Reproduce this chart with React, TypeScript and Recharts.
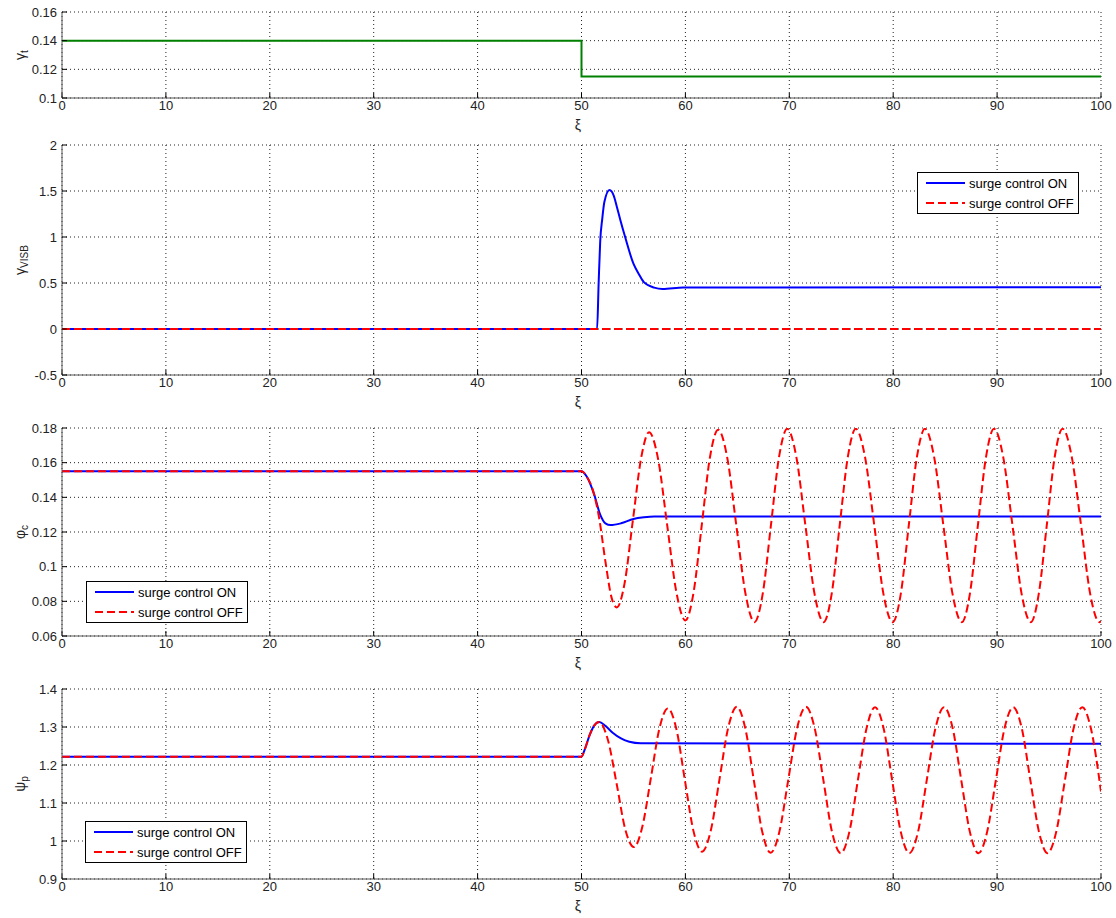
import React from 'react';
import { LineChart, Line, XAxis, YAxis, CartesianGrid, Legend } from 'recharts';

// axis ticks
const xTicks = [0, 10, 20, 30, 40, 50, 60, 70, 80, 90, 100];
const gammaTTicks = [0.1, 0.12, 0.14, 0.16];
const gammaVTicks = [-0.5, 0, 0.5, 1, 1.5, 2];
const phiTicks = [0.06, 0.08, 0.1, 0.12, 0.14, 0.16, 0.18];
const psiTicks = [0.9, 1, 1.1, 1.2, 1.3, 1.4];

const seriesNames = ['surge control ON', 'surge control OFF'];

// [xi, value] pairs
const gammaT = [[0, 0.14], [50, 0.14], [50, 0.115], [100, 0.115]];

const gammaVOn = [
  [0, 0], [51.5, 0], [51.65, 0.5], [51.8, 0.95], [52.0, 1.2], [52.2, 1.38], [52.7, 1.51],
  [53.1, 1.45], [53.4, 1.33], [53.75, 1.18], [54.2, 1.0], [55.0, 0.71], [55.5, 0.6],
  [56.0, 0.51], [57.0, 0.45], [57.8, 0.435], [59.8, 0.45], [100, 0.455],
];
const gammaVOff = [[0, 0], [100, 0]];

const phiOn = [
  [0, 0.155], [50, 0.155], [50.5, 0.152], [51.2, 0.142], [51.8, 0.13], [52.3, 0.125],
  [52.8, 0.124], [53.8, 0.125], [55, 0.1275], [56, 0.1285], [57, 0.129], [100, 0.129],
];
const phiOff = [
  [0, 0.155], [50, 0.155], [50.5, 0.152], [51.2, 0.142], [51.7, 0.128], [52.3, 0.103],
  [52.9, 0.082], [53.4, 0.0765], [54.15, 0.0905], [54.95, 0.127], [55.75, 0.163], [56.5, 0.1775],
  [57.375, 0.162], [58.25, 0.1238], [59.125, 0.0855], [60.0, 0.069],
  [60.79, 0.0853], [61.58, 0.1242], [62.36, 0.163], [63.15, 0.179],
  [64.03, 0.1628], [64.9, 0.1238], [65.78, 0.0845], [66.65, 0.068],
  [67.44, 0.0843], [68.23, 0.1238], [69.01, 0.1632], [69.8, 0.1795],
  [70.68, 0.1632], [71.55, 0.1238], [72.43, 0.0843], [73.3, 0.068],
  [74.08, 0.0843], [74.85, 0.1238], [75.63, 0.1632], [76.4, 0.1795],
  [77.29, 0.1632], [78.18, 0.1238], [79.06, 0.0843], [79.95, 0.068],
  [80.73, 0.0843], [81.5, 0.1238], [82.28, 0.1632], [83.05, 0.1795],
  [83.94, 0.1632], [84.83, 0.1238], [85.71, 0.0843], [86.6, 0.068],
  [87.38, 0.0843], [88.15, 0.1238], [88.93, 0.1632], [89.7, 0.1795],
  [90.59, 0.1632], [91.48, 0.1238], [92.36, 0.0843], [93.25, 0.068],
  [94.01, 0.0843], [94.78, 0.1238], [95.54, 0.1632], [96.3, 0.1795],
  [97.19, 0.1632], [98.08, 0.1238], [98.96, 0.0843], [99.85, 0.068], [100, 0.0685],
];

const psiOn = [
  [0, 1.222], [50, 1.222], [50.3, 1.24], [50.8, 1.28], [51.2, 1.303], [51.7, 1.313],
  [52.3, 1.303], [53, 1.285], [53.8, 1.27], [54.6, 1.261], [55.7, 1.257], [100, 1.256],
];
const psiOff = [
  [0, 1.222], [50, 1.222], [50.3, 1.24], [50.8, 1.28], [51.2, 1.303], [51.7, 1.313],
  [52.55, 1.265], [53.4, 1.148], [54.2, 1.032], [55.05, 0.984],
  [55.86, 1.038], [56.68, 1.166], [57.49, 1.295], [58.3, 1.349],
  [59.13, 1.295], [59.95, 1.16], [60.78, 1.026], [61.6, 0.972],
  [62.44, 1.027], [63.28, 1.162], [64.11, 1.297], [64.95, 1.353],
  [65.76, 1.297], [66.58, 1.161], [67.39, 1.025], [68.2, 0.969],
  [69.05, 1.025], [69.9, 1.161], [70.75, 1.297], [71.6, 1.353],
  [72.44, 1.297], [73.28, 1.16], [74.11, 1.024], [74.95, 0.968],
  [75.78, 1.024], [76.6, 1.16], [77.43, 1.296], [78.25, 1.352],
  [79.08, 1.296], [79.9, 1.16], [80.73, 1.024], [81.55, 0.968],
  [82.39, 1.024], [83.23, 1.16], [84.06, 1.296], [84.9, 1.352],
  [85.73, 1.296], [86.55, 1.16], [87.38, 1.024], [88.2, 0.968],
  [89.04, 1.024], [89.88, 1.16], [90.71, 1.296], [91.55, 1.352],
  [92.38, 1.296], [93.2, 1.16], [94.03, 1.024], [94.85, 0.968],
  [95.69, 1.024], [96.53, 1.16], [97.36, 1.296], [98.2, 1.352],
  [99.03, 1.296], [100, 1.13],
];

type Pt = { x: number; y: number };
const toPts = (rows: number[][]): Pt[] => rows.map(([x, y]) => ({ x, y }));

const FONT = '"Liberation Sans", Arial, sans-serif';
const AXIS = '#555';
const BLUE = '#0000ff';
const RED = '#ff0000';
const GREEN = '#008000';

type Series = { name: string; data: Pt[]; color: string; dash?: string; type: 'linear' | 'monotone' };

const LegendBox = () => (
  <svg width={162} height={42} style={{ display: 'block' }}>
    <rect x={0.5} y={0.5} width={161} height={41} fill="#fff" stroke="#000" />
    <line x1={9} x2={48} y1={11} y2={11} stroke={BLUE} strokeWidth={2} />
    <line x1={9} x2={48} y1={31} y2={31} stroke={RED} strokeWidth={2} strokeDasharray="8 4" />
    <text x={52} y={11} dominantBaseline="central" fontFamily={FONT} fontSize={13} fill="#000">{seriesNames[0]}</text>
    <text x={52} y={31} dominantBaseline="central" fontFamily={FONT} fontSize={13} fill="#000">{seriesNames[1]}</text>
  </svg>
);

interface PanelProps {
  plotTop: number;
  plotH: number;
  yDomain: [number, number];
  yTicks: number[];
  series: Series[];
  legendAt?: { left: number; top: number };
  label: string;
  sub: string;
}

const Panel = ({ plotTop, plotH, yDomain, yTicks, series, legendAt, label, sub }: PanelProps) => {
  const mTop = 10;
  const chartTop = plotTop - mTop;
  return (
    <>
      <div style={{ position: 'absolute', left: 0, top: chartTop }}>
        <LineChart width={1116} height={plotH + mTop + 22} margin={{ top: mTop, right: 15, bottom: 0, left: 0 }}>
          <CartesianGrid xAxisId="b" yAxisId="l" stroke="#222" strokeDasharray="1 3" />
          <XAxis xAxisId="b" type="number" dataKey="x" domain={[0, 100]} ticks={xTicks} interval={0}
            allowDataOverflow height={22} tickSize={-5} tickMargin={8} stroke={AXIS}
            tickLine={{ stroke: '#000' }} tick={{ fill: '#222', fontSize: 13, fontFamily: FONT }} />
          <XAxis xAxisId="t" orientation="top" type="number" dataKey="x" domain={[0, 100]} ticks={xTicks}
            interval={0} allowDataOverflow height={0} tickSize={-5} tick={false} stroke={AXIS}
            tickLine={{ stroke: '#000' }} />
          <YAxis yAxisId="l" type="number" domain={yDomain} ticks={yTicks} interval={0} allowDataOverflow
            width={62} tickSize={-5} tickMargin={10} stroke={AXIS} tickLine={{ stroke: '#000' }}
            tick={{ fill: '#222', fontSize: 13, fontFamily: FONT }} />
          <YAxis yAxisId="r" orientation="right" type="number" domain={yDomain} ticks={yTicks} interval={0}
            allowDataOverflow width={0} tickSize={-5} tick={false} stroke={AXIS} tickLine={{ stroke: '#000' }} />
          {series.map((s) => (
            <Line key={s.name} xAxisId="b" yAxisId="l" data={s.data} dataKey="y" name={s.name} type={s.type}
              stroke={s.color} strokeWidth={2} strokeDasharray={s.dash} dot={false} activeDot={false}
              isAnimationActive={false} />
          ))}
          <Line xAxisId="t" yAxisId="r" data={series[0].data} dataKey="y" stroke="none" dot={false}
            activeDot={false} legendType="none" isAnimationActive={false} />
          {legendAt && (
            <Legend layout="vertical" align="center" verticalAlign="middle" content={() => <LegendBox />}
              wrapperStyle={{ left: legendAt.left, top: legendAt.top - chartTop, width: 162, height: 42 }} />
          )}
        </LineChart>
      </div>
      <div style={{ position: 'absolute', left: 21, top: plotTop + plotH / 2, transform: 'translate(-50%, -50%) rotate(-90deg)',
        fontFamily: FONT, fontSize: 14, color: '#222', whiteSpace: 'nowrap' }}>
        {label}<sub style={{ fontSize: 10 }}>{sub}</sub>
      </div>
      <div style={{ position: 'absolute', left: 578, top: plotTop + plotH + 27, transform: 'translate(-50%, -50%)',
        fontFamily: FONT, fontSize: 14, color: '#222' }}>
        ξ
      </div>
    </>
  );
};

export default function App() {
  return (
    <div style={{ position: 'absolute', left: 0, top: 0, width: 1116, height: 918, background: '#fff' }}>
      <Panel plotTop={12} plotH={86} yDomain={[0.1, 0.16]} yTicks={gammaTTicks} label="γ" sub="t"
        series={[{ name: 'gamma_t', data: toPts(gammaT), color: GREEN, type: 'linear' }]} />
      <Panel plotTop={145} plotH={230} yDomain={[-0.5, 2]} yTicks={gammaVTicks} label="γ" sub="VISB"
        legendAt={{ left: 917, top: 172 }}
        series={[
          { name: seriesNames[0], data: toPts(gammaVOn), color: BLUE, type: 'monotone' },
          { name: seriesNames[1], data: toPts(gammaVOff), color: RED, dash: '8 4', type: 'linear' },
        ]} />
      <Panel plotTop={428} plotH={208} yDomain={[0.06, 0.18]} yTicks={phiTicks} label="φ" sub="c"
        legendAt={{ left: 86, top: 581 }}
        series={[
          { name: seriesNames[0], data: toPts(phiOn), color: BLUE, type: 'monotone' },
          { name: seriesNames[1], data: toPts(phiOff), color: RED, dash: '8 4', type: 'monotone' },
        ]} />
      <Panel plotTop={689} plotH={190} yDomain={[0.9, 1.4]} yTicks={psiTicks} label="ψ" sub="p"
        legendAt={{ left: 85, top: 821 }}
        series={[
          { name: seriesNames[0], data: toPts(psiOn), color: BLUE, type: 'monotone' },
          { name: seriesNames[1], data: toPts(psiOff), color: RED, dash: '8 4', type: 'monotone' },
        ]} />
    </div>
  );
}
